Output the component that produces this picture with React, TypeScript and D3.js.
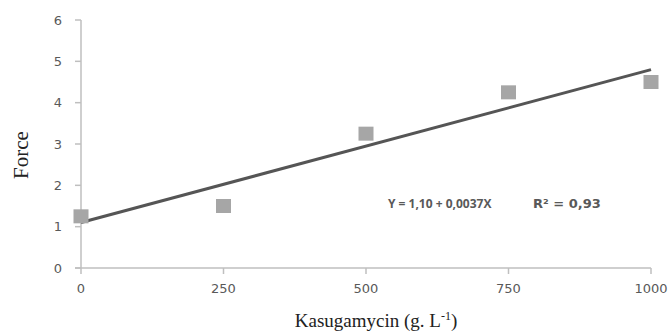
import React from 'react'
import * as d3 from 'd3'

const doses = [0, 250, 500, 750, 1000]
const force = [1.25, 1.5, 3.25, 4.25, 4.5]
const fitIntercept = 1.1
const fitSlope = 0.0037
const xTicks = [0, 250, 500, 750, 1000]
const yTicks = [0, 1, 2, 3, 4, 5, 6]

const W = 672
const H = 331

export default function App() {
  const x = d3.scaleLinear().domain([0, 1000]).range([81, 651])
  const y = d3.scaleLinear().domain([0, 6]).range([268, 20])
  const fit = d3.line<number>()
    .x(d => x(d))
    .y(d => y(fitIntercept + fitSlope * d))
  const axisColor = '#bfbfbf'
  const textColor = '#595959'
  const tickFont = "'DejaVu Sans', Verdana, sans-serif"
  const serif = "'Liberation Serif', 'Times New Roman', serif"

  return (
    <svg width={W} height={H} style={{ position: 'absolute', left: 0, top: 0, background: '#fff' }}>
      {/* y axis */}
      <line x1={x(0)} x2={x(0)} y1={y(0)} y2={y(6)} stroke={axisColor} strokeWidth={1.5} />
      {yTicks.map(t => (
        <g key={'y' + t}>
          <line x1={x(0) - 6} x2={x(0)} y1={y(t)} y2={y(t)} stroke={axisColor} strokeWidth={1.5} />
          <text x={62} y={y(t)} dy="0.36em" textAnchor="end" fontSize={13} fill={textColor} fontFamily={tickFont}>{t}</text>
        </g>
      ))}
      {/* x axis */}
      <line x1={x(0) - 6} x2={x(1000)} y1={y(0)} y2={y(0)} stroke={axisColor} strokeWidth={1.5} />
      {xTicks.map(t => (
        <g key={'x' + t}>
          <line x1={x(t)} x2={x(t)} y1={y(0)} y2={y(0) + 6} stroke={axisColor} strokeWidth={1.5} />
          <text x={x(t)} y={293} textAnchor="middle" fontSize={13} fill={textColor} fontFamily={tickFont}>{t}</text>
        </g>
      ))}
      {/* trend line */}
      <path d={fit([0, 1000]) || ''} fill="none" stroke="#555555" strokeWidth={3} />
      {/* points */}
      {doses.map((d, i) => (
        <rect key={'p' + i} x={x(d) - 7.5} y={y(force[i]) - 7} width={15} height={14} fill="#a6a6a6" />
      ))}
      <text x={388} y={208} fontSize={12} fontWeight="bold" fill={textColor} fontFamily="'Open Sans', sans-serif">Y = 1,10 + 0,0037X</text>
      <text x={533} y={208} fontSize={13} fontWeight="bold" fill={textColor} fontFamily={tickFont}>R² = 0,93</text>
      {/* titles */}
      <text transform={`translate(28,155) rotate(-90)`} textAnchor="middle" fontSize={21} fill="#222" fontFamily={serif}>Force</text>
      <text x={376} y={327} textAnchor="middle" fontSize={19} fill="#222" fontFamily={serif}>
        Kasugamycin (g. L<tspan dy={-7} fontSize={12}>-1</tspan><tspan dy={7}>)</tspan>
      </text>
    </svg>
  )
}
